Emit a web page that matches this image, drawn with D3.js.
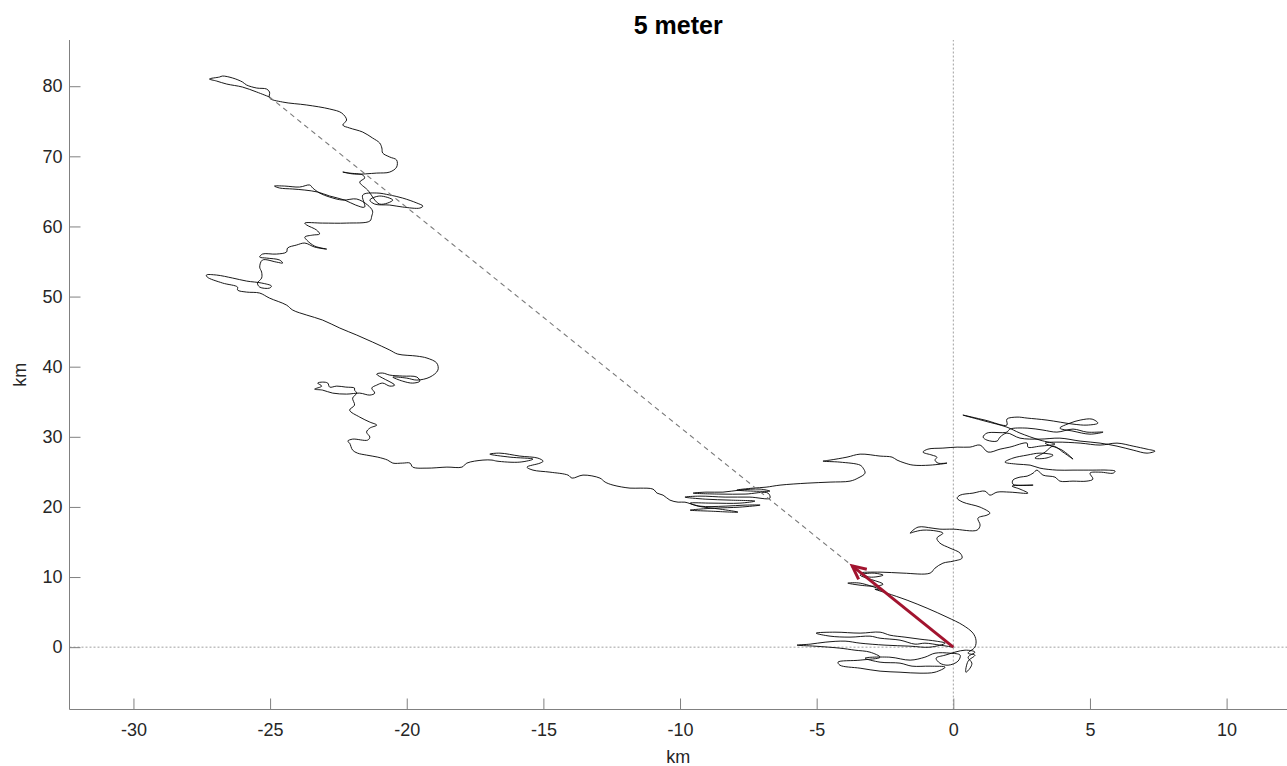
<!DOCTYPE html>
<html>
<head>
<meta charset="utf-8">
<script src="https://cdn.jsdelivr.net/npm/d3@7"></script>
<style>
  html, body { margin: 0; padding: 0; background: #fff; }
  svg { display: block; font-family: "Liberation Sans", Arial, Helvetica, sans-serif; }
</style>
</head>
<body>
<svg id="chart" width="1287" height="766"></svg>
<script>
// ---- data (km) ----
const title = "5 meter";
const xLabel = "km";
const yLabel = "km";
const xTicks = [-30, -25, -20, -15, -10, -5, 0, 5, 10];
const yTicks = [0, 10, 20, 30, 40, 50, 60, 70, 80];
const xLimits = [-32.34, 12.21];
const yLimits = [-8.89, 86.59];
const origin = [0, 0];
const driftArrowTip = [-3.7, 11.6];
const endPoint = [-25.02, 78.46];

// drifter track, km east / km north of release
const track = [
[0,0],[-0.49,0.29],[-1.04,0.57],[-1.40,0.43],[-1.95,1.00],[-2.68,1.28],[-3.05,1.57],[-3.78,1.43],[-4.51,1.57],[-5.02,2.00],[-4.33,2.14],[-3.41,2.00],[-2.68,2.14],[-2.32,1.71],[-1.77,1.43],[-1.22,1.14],[-0.63,0.86],[-0.30,0.57],[-0.85,0],[-1.58,0.14],[-2.50,0.29],[-3.41,0.57],[-3.96,0.86],[-4.69,0.71],[-5.24,0.43],[-5.72,0.29],[-5.06,0.14],[-4.15,-0.14],[-3.60,-0.43],[-3.05,-0.71],[-2.68,-1.43],[-3.41,-1.85],[-4.22,-2.14],[-4.15,-2.57],[-3.41,-3.00],[-2.68,-3.42],[-1.95,-3.57],[-1.22,-3.71],[-0.67,-3.57],[-0.30,-2.85],[-0.85,-2.71],[-1.51,-2.71],[-1.95,-2.28],[-2.68,-2.14],[-3.23,-1.57],[-2.32,-1.43],[-1.58,-1.85],[-1.04,-1.43],[-0.67,-0.86],[-0.12,-0.86],[0.25,-1.14],[0.17,-2.00],[-0.19,-2.57],[-0.49,-2.28],[-0.63,-1.57],[-0.30,-1.14],[0.43,-0.43],[0.79,-0.71],[0.54,-1.43],[0.68,-2.28],[0.61,-3.00],[0.46,-3.57],[0.54,-2.0],[0.79,-1.14],[0.54,-0.86],[0.79,0],[0.83,1.00],[0.72,2.00],[0.35,3.14],[-0.23,4.28],[-0.96,5.56],[-1.69,6.70],[-2.43,7.70],[-2.87,8.27],[-2.61,8.13],[-3.41,9.13],[-3.86,9.13],[-2.94,8.70],[-2.57,8.99],[-3.41,10.27],[-2.94,10.56],[-2.57,10.27],[-3.05,9.99],[-3.41,10.56],[-2.68,10.70],[-1.84,10.56],[-0.85,10.56],[-0.67,11.27],[-0.38,11.98],[0,12.27],[0.32,12.70],[0.25,13.41],[-0.12,14.12],[-0.49,14.84],[-0.60,15.55],[-0.38,16.26],[-0.60,16.55],[-1.11,16.69],[-1.47,16.40],[-1.58,16.26],[-1.29,17.12],[-0.78,16.98],[-0.49,16.83],[0,16.83],[0.87,16.69],[0.98,17.40],[0.90,18.40],[1.23,18.83],[1.34,19.12],[0.98,19.97],[0.35,20.68],[0.14,21.25],[0.25,21.68],[0.72,21.97],[1.16,22.25],[1.34,21.68],[1.60,22.11],[2.07,22.11],[2.73,21.97],[2.44,22.54],[2.15,22.97],[2.92,23.11],[2.18,23.25],[2.18,23.82],[2.44,24.25],[2.70,24.39],[2.92,24.82],[3.06,25.25],
[3.28,24.54],[3.72,24.25],[3.90,23.68],[4.38,23.68],[4.89,23.68],[5.11,23.97],[5.00,24.82],[5.37,24.96],[5.85,24.82],[5.92,25.11],[5.63,25.25],[5.11,25.25],[4.38,25.25],[3.79,25.25],[3.17,25.53],[2.81,25.96],[2.33,26.10],[1.89,26.39],[2.18,26.96],[2.70,27.39],[3.17,27.67],[3.65,27.39],[3.39,26.96],[2.99,26.96],[3.36,27.82],[3.65,28.67],[4.01,27.82],[4.38,26.82],[3.98,28.10],[3.36,29.10],[3.79,29.24],[4.64,29.10],[5.37,28.82],[5.99,29.10],[6.58,28.67],[7.09,28.24],[7.38,27.96],[7.09,27.67],[6.58,28.10],[5.99,28.67],[5.37,29.10],[4.64,29.39],[3.90,29.81],[3.17,29.67],[2.44,29.81],[1.96,30.53],[1.71,29.96],[1.60,29.39],[1.23,29.53],[1.09,29.96],[1.23,30.53],[1.96,30.67],[2.07,31.10],[2.70,31.24],[3.28,30.96],[3.79,30.67],[4.38,31.10],[4.89,30.67],[5.48,30.67],[5.00,30.38],[4.38,30.81],[3.90,31.24],[4.27,31.95],[4.64,32.38],[5.08,32.52],[5.29,31.95],[4.89,31.67],[4.38,31.81],[3.43,32.38],[2.70,32.67],[2.33,32.81],[1.96,32.52],[1.96,31.67],[1.16,32.38],[0.35,33.10],[1.16,32.24],[1.96,31.38],[2.44,30.53],[3.17,29.53],[3.72,28.96],[3.17,28.67],[2.73,28.53],[2.70,29.10],[2.07,28.53],[1.71,28.24],[1.27,27.82],[0.98,28.82],[0.61,28.53],[0.14,28.53],[-0.38,28.39],[-0.93,28.24],[-1.11,27.82],[-0.78,27.39],[-0.60,27.10],[-0.67,26.68],[-0.56,26.25],[-0.23,26.25],[-0.85,25.96],[-1.47,25.96],[-1.77,26.25],[-2.06,26.68],[-2.24,27.10],[-2.68,27.25],[-3.41,27.53],[-3.89,27.10],[-4.51,26.68],[-4.77,26.53],[-4.15,26.39],[-3.41,25.96],[-3.30,25.53],[-3.23,24.82],[-3.49,24.11],[-3.78,23.68],[-4.51,23.54],[-5.35,23.39],[-6.34,23.11],[-6.85,22.82],[-7.33,22.68],[-7.92,22.40],
[-6.71,22.25],[-7.07,22.54],[-7.81,22.40],[-8.43,22.11],[-9.05,22.11],[-9.52,21.97],[-8.54,21.83],[-7.62,21.83],[-6.78,21.97],[-6.71,21.25],[-7.44,21.40],[-8.35,21.40],[-9.27,21.54],[-9.82,21.40],[-9.08,21.11],[-8.17,20.97],[-7.26,20.83],[-7.81,20.54],[-8.83,20.54],[-9.63,20.54],[-9.27,20.11],[-8.35,20.11],[-7.62,20.26],[-7.07,20.26],[-7.81,19.97],[-8.72,19.83],[-9.27,19.69],[-9.63,19.54],[-8.90,19.40],[-7.88,19.26],[-8.54,19.69],[-9.34,20.11],[-9.82,20.68],[-10.07,20.68],
[-10.37,20.97],[-10.62,21.68],[-10.84,21.97],[-10.99,22.54],[-11.46,22.68],[-11.83,22.68],[-12.45,23.11],[-12.74,23.54],[-12.93,24.11],[-13.55,24.54],[-13.95,24.11],[-14.10,24.54],[-14.76,24.96],[-15.38,25.25],[-15.60,25.68],[-15.12,26.25],[-15.01,26.53],[-15.20,26.96],[-15.86,27.25],[-16.59,27.67],[-16.96,27.53],[-16.22,27.10],[-15.38,26.82],[-15.86,26.39],[-16.70,26.53],[-16.88,26.68],[-17.21,26.68],[-17.80,26.25],[-17.98,25.68],[-18.53,25.68],[-19.26,25.53],[-19.78,25.68],[-19.88,26.25],[-20.15,26.25],[-20.51,26.25],[-20.70,26.68],[-21.06,27.10],[-21.47,27.39],[-21.80,27.67],[-21.98,28.10],[-22.09,29.10],[-22.16,29.39],[-21.98,29.67],[-21.43,29.53],[-21.35,29.96],[-21.47,30.67],[-21.35,31.24],[-21.10,31.67],[-21.35,32.10],[-21.72,32.81],[-22.09,33.81],[-21.91,34.52],[-21.98,35.52],[-21.83,36.23],[-21.91,36.66],[-21.91,36.95],[-22.23,37.09],[-22.56,37.23],[-22.82,37.09],[-22.89,37.66],[-23.08,37.80],[-23.26,37.66],[-23.11,37.23],[-23.37,36.80],[-23.08,36.66],[-22.71,36.23],[-22.20,36.09],[-21.72,36.23],[-21.35,35.95],[-21.17,36.23],[-21.28,36.95],[-21.10,37.37],[-20.88,37.66],[-20.62,37.23],[-20.44,37.37],[-21.10,38.94],[-20.88,39.09],[-20.62,38.80],[-20.15,38.66],[-19.63,38.52],[-19.52,37.94],[-19.78,37.66],[-20.15,37.94],[-20.51,38.52],[-20.00,38.37],[-19.63,38.09],[-19.15,38.52],[-18.86,39.51],[-18.90,40.51],[-19.26,41.23],[-19.63,41.51],[-20.33,41.80],[-20.62,42.37],[-21.25,43.51],[-21.83,44.51],[-22.45,45.51],[-23.08,46.65],[-23.66,47.36],[-24.17,48.07],[-24.40,48.79],[-25.02,49.78],[-25.38,50.50],[-25.86,50.64],[-26.19,50.93],[-26.19,51.35],[-26.74,51.93],[-27.30,52.78],[-27.33,53.07],[-26.96,53.07],[-26.37,52.64],[-25.86,52.21],[-25.31,51.93],[-24.95,51.50],[-25.02,51.21],[-25.38,51.35],[-25.46,51.93],[-25.31,52.64],[-25.31,53.49],[-25.38,54.21],[-25.28,55.21],[-24.77,54.92],[-24.54,54.78],[-24.65,55.21],[-25.13,55.49],[-25.38,55.63],[-25.28,56.06],[-24.77,56.06],[-24.40,56.35],[-24.36,56.92],[-24.03,57.35],[-23.73,57.63],[-23.37,57.06],[-22.93,56.77],[-23.37,57.20],[-23.66,58.06],[-23.73,58.49],[-23.44,58.77],[-23.19,58.92],[-23.30,59.49],[-23.66,60.20],[-23.73,60.48],[-23.08,60.48],[-22.20,60.48],[-21.35,60.77],[-21.28,61.48],[-21.25,62.19],[-21.43,63.05],[-21.83,63.91],[-22.34,63.76],[-22.82,64.19],[-23.19,64.77],[-23.44,65.48],[-23.55,65.91],[-23.92,65.62],[-24.47,65.76],[-24.84,65.76],[-24.65,65.48],[-24.17,65.34],[-23.73,65.19],[-23.26,64.91],[-22.82,64.34],[-22.27,63.76],[-21.87,63.05],[-21.54,62.77],[-21.61,64.48],[-21.10,64.77],[-20.62,64.48],[-20.15,64.05],[-19.63,63.34],[-19.41,62.91],[-19.52,62.62],[-20.15,62.77],[-20.62,63.05],[-21.17,63.19],[-21.35,63.76],[-20.99,64.34],[-20.51,63.76],[-20.99,63.19],[-21.43,65.19],[-21.72,66.33],[-21.54,66.90],[-21.61,67.33],[-22.09,67.61],[-22.34,67.76],[-21.91,67.47],[-21.10,67.61],[-20.62,67.76],[-20.37,68.47],[-20.37,69.47],[-20.62,69.90],[-20.88,70.47],[-20.91,71.18],[-20.99,71.90],[-21.25,72.61],[-21.61,73.46],[-22.09,74.04],[-22.34,74.46],[-22.20,75.18],[-22.38,76.18],[-22.82,76.75],[-23.66,77.32],[-24.54,77.74],[-25.02,78.32],[-25.02,79.17],[-25.13,79.60],[-25.49,79.74],[-25.86,80.17],[-26.01,80.60],[-26.37,81.17],[-26.74,81.45],[-26.85,81.31],[-27.22,81.03],[-26.96,80.74],[-26.59,80.31],[-26.01,79.88],[-25.49,79.17],[-25.02,78.46]
];

// ---- layout ----
const W = 1287, H = 766;
const plot = { left: 69.5, right: 1287, top: 40, bottom: 709.5 };
const axisColor = "#808080";
const textColor = "#262626";
const arrowColor = "#A2142F";

const svg = d3.select("#chart");
const x = d3.scaleLinear().domain(xLimits).range([plot.left, plot.right]);
const y = d3.scaleLinear().domain(yLimits).range([plot.bottom, plot.top]);

// reference cross lines
svg.append("line")
  .attr("x1", x(0)).attr("x2", x(0))
  .attr("y1", y(yLimits[0])).attr("y2", y(yLimits[1]))
  .attr("stroke", "#a0a0a0").attr("stroke-width", 1).attr("stroke-dasharray", "2,2");
svg.append("line")
  .attr("x1", x(xLimits[0])).attr("x2", x(xLimits[1]))
  .attr("y1", y(0)).attr("y2", y(0))
  .attr("stroke", "#a0a0a0").attr("stroke-width", 1).attr("stroke-dasharray", "2,2");

// track
svg.append("path")
  .datum(track)
  .attr("fill", "none")
  .attr("stroke", "#000")
  .attr("stroke-width", 0.9)
  .attr("stroke-linejoin", "round")
  .attr("d", d3.line().curve(d3.curveCatmullRom.alpha(0.5)).x(d => x(d[0])).y(d => y(d[1])));

// dashed line origin -> end
svg.append("line")
  .attr("x1", x(origin[0])).attr("y1", y(origin[1]))
  .attr("x2", x(endPoint[0])).attr("y2", y(endPoint[1]))
  .attr("stroke", "#7a7a7a").attr("stroke-width", 1.1).attr("stroke-dasharray", "5,4");

// drift arrow
const ax0 = x(origin[0]), ay0 = y(origin[1]);
const ax1 = x(driftArrowTip[0]), ay1 = y(driftArrowTip[1]);
svg.append("line")
  .attr("x1", ax0).attr("y1", ay0).attr("x2", ax1).attr("y2", ay1)
  .attr("stroke", arrowColor).attr("stroke-width", 3);
const ang = Math.atan2(ay1 - ay0, ax1 - ax0);
const headLen = 15, headAng = 0.45;
const hp = [
  [ax1 - headLen * Math.cos(ang - headAng), ay1 - headLen * Math.sin(ang - headAng)],
  [ax1, ay1],
  [ax1 - headLen * Math.cos(ang + headAng), ay1 - headLen * Math.sin(ang + headAng)]
];
svg.append("path")
  .attr("d", d3.line()(hp))
  .attr("fill", "none").attr("stroke", arrowColor).attr("stroke-width", 3)
  .attr("stroke-linejoin", "miter");

// axes
const xAxis = d3.axisBottom(x).tickValues(xTicks).tickFormat(d => String(d))
  .tickSizeInner(-11).tickSizeOuter(0).tickPadding(14);
const yAxis = d3.axisLeft(y).tickValues(yTicks).tickFormat(d => String(d))
  .tickSizeInner(-11).tickSizeOuter(0).tickPadding(7);

const gx = svg.append("g").attr("transform", `translate(0,${plot.bottom})`).call(xAxis);
const gy = svg.append("g").attr("transform", `translate(${plot.left},0)`).call(yAxis);
[gx, gy].forEach(g => {
  g.select(".domain").attr("stroke", axisColor).attr("stroke-width", 1);
  g.selectAll(".tick line").attr("stroke", axisColor).attr("stroke-width", 1);
  g.selectAll(".tick text").attr("fill", textColor)
    .style("font-size", "18px")
    .style("font-family", '"Liberation Sans", Arial, Helvetica, sans-serif');
});
gx.select(".domain").attr("d", `M${plot.left},0H${plot.right}`);
gy.select(".domain").attr("d", `M0,${plot.bottom}V${plot.top}`);

// labels
svg.append("text")
  .attr("x", (plot.left + plot.right) / 2).attr("y", 34)
  .attr("text-anchor", "middle")
  .attr("fill", "#000")
  .style("font-size", "25px").style("font-weight", "bold")
  .text(title);
svg.append("text")
  .attr("x", (plot.left + plot.right) / 2).attr("y", 763)
  .attr("text-anchor", "middle")
  .attr("fill", textColor)
  .style("font-size", "18px")
  .text(xLabel);
svg.append("text")
  .attr("transform", `translate(26,${(plot.top + plot.bottom) / 2}) rotate(-90)`)
  .attr("text-anchor", "middle")
  .attr("fill", textColor)
  .style("font-size", "18px")
  .text(yLabel);
</script>
</body>
</html>
